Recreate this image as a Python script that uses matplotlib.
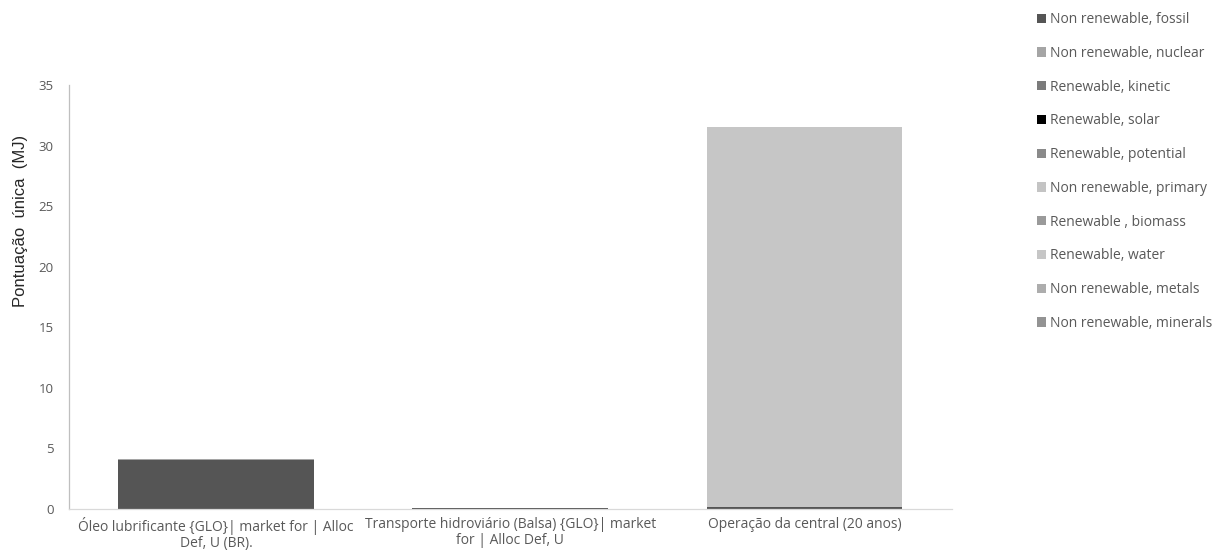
import matplotlib
matplotlib.use("Agg")
import matplotlib.pyplot as plt
from matplotlib.patches import Patch
import numpy as np

plt.rcParams['font.family'] = ['Open Sans', 'DejaVu Sans']

categories = [
    "Óleo lubrificante {GLO}| market for | Alloc\nDef, U (BR).",
    "Transporte hidroviário (Balsa) {GLO}| market\nfor | Alloc Def, U",
    "Operação da central (20 anos)",
]

series_names = [
    "Non renewable, fossil",
    "Non renewable, nuclear",
    "Renewable, kinetic",
    "Renewable, solar",
    "Renewable, potential",
    "Non renewable, primary",
    "Renewable , biomass",
    "Renewable, water",
    "Non renewable, metals",
    "Non renewable, minerals",
]

fossil = [4.05, 0.10, 0.20]
nuclear = [0.04, 0.0, 0.0]
kinetic = [0.0, 0.0, 0.0]
solar = [0.0, 0.0, 0.0]
potential = [0.0, 0.0, 0.0]
primary = [0.0, 0.0, 0.0]
biomass = [0.0, 0.0, 0.0]
water = [0.0, 0.0, 31.32]
metals = [0.0, 0.0, 0.0]
minerals = [0.0, 0.0, 0.0]

series_values = [fossil, nuclear, kinetic, solar, potential,
                 primary, biomass, water, metals, minerals]

colors = ["#555555", "#a5a5a5", "#7b7b7b", "#000000", "#8a8a8a",
          "#c4c4c4", "#9a9a9a", "#c6c6c6", "#adadad", "#939393"]

fig = plt.figure(figsize=(12.2, 5.57), dpi=100)
ax = fig.add_axes([0.0566, 0.0862, 0.7234, 0.7608])

x = np.arange(len(categories))
bottom = np.zeros(len(categories))
for name, vals, col in zip(series_names, series_values, colors):
    vals = np.array(vals)
    ax.bar(x, vals, width=0.666, bottom=bottom, color=col, label=name,
           linewidth=0)
    bottom += vals

ax.set_xlim(-0.5, len(categories) - 0.5)
ax.set_ylim(0, 35)
ax.set_yticks(np.arange(0, 36, 5))
ax.set_xticks(x)
ax.set_xticklabels(categories, fontsize=10, color="#595959", linespacing=1.1)
ax.tick_params(axis='y', labelsize=9.5, colors="#595959", length=0, pad=11)
ax.tick_params(axis='x', length=0, pad=6)

for side in ("top", "right"):
    ax.spines[side].set_visible(False)
ax.spines["left"].set_color("#bfbfbf")
ax.spines["bottom"].set_color("#d9d9d9")
ax.spines["left"].set_linewidth(0.9)
ax.spines["bottom"].set_linewidth(0.9)

ax.set_ylabel("Pontuação  única  (MJ)", fontsize=12, color="#262626",
              family=['Liberation Sans', 'DejaVu Sans'])
ax.yaxis.set_label_coords(-0.046, 0.68)

handles = [Patch(facecolor=c, edgecolor='none') for c in colors]
leg = fig.legend(handles, series_names, loc="upper left",
                 bbox_to_anchor=(0.843, 0.993), frameon=False,
                 fontsize=10, labelspacing=1.35, handlelength=0.65,
                 handleheight=0.65, handletextpad=0.3, borderaxespad=0.2)
for t in leg.get_texts():
    t.set_color("#595959")

fig.savefig("out.png", dpi=100, facecolor="white")
